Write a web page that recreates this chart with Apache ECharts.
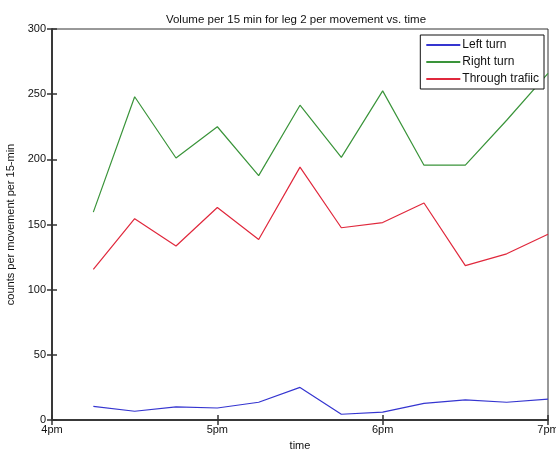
<!DOCTYPE html>
<html><head><meta charset="utf-8">
<script src="https://cdn.jsdelivr.net/npm/echarts@6/dist/echarts.min.js"></script>
<style>html,body{margin:0;padding:0;background:#fff}#c{width:556px;height:450px}</style>
</head><body><div id="c"></div>
<script>
// minutes after 4pm
var minutes = [15, 30, 45, 60, 75, 90, 105, 120, 135, 150, 165, 180];
var leftTurn = [10.5, 6.7, 10, 9.2, 13.6, 25, 4.4, 6, 12.8, 15.4, 13.6, 16];
var rightTurn = [159.5, 248, 201, 225, 187.5, 241.5, 201.5, 252.5, 195.5, 195.5, 230, 266];
var throughTraffic = [115.5, 154.5, 133.5, 163, 138.5, 194, 147.5, 151.5, 166.5, 118.5, 127.5, 142.5];
var xTickLabels = ['4pm', '5pm', '6pm', '7pm'];
var seriesNames = ['Left turn', 'Right turn', 'Through trafiic'];
var colors = ['#3535d0', '#3a943a', '#e0283c'];

function pairs(vals) { return minutes.map(function (m, i) { return [m, vals[i]]; }); }

var font = 'Liberation Sans';
var axisLine = { show: true, lineStyle: { color: '#333', width: 1.5 } };
var tick = { inside: true, length: 5, lineStyle: { color: '#333', width: 1.5 } };
var chart = echarts.init(document.getElementById('c'));
chart.setOption({
  animation: false,
  color: colors,
  title: {
    text: 'Volume per 15 min for leg 2 per movement vs. time',
    left: 291, top: 9, textAlign: 'center',
    textStyle: { fontFamily: font, fontSize: 11.5, fontWeight: 'normal', color: '#111' }
  },
  legend: {
    orient: 'vertical', right: 12, top: 35,
    backgroundColor: '#fff', borderColor: '#111', borderWidth: 1,
    padding: [4, 5, 4, 6], itemGap: 5, itemWidth: 34, itemHeight: 2,
    icon: 'rect',
    textStyle: { fontFamily: font, fontSize: 12, color: '#111', padding: [0, 0, 0, -3] },
    data: seriesNames
  },
  grid: { left: 52, right: 8, top: 29, bottom: 30, outerBoundsMode: 'none', containLabel: false,
    show: true, borderColor: '#333', borderWidth: 1 },
  xAxis: [{
    type: 'value', min: 0, max: 180, interval: 60,
    name: 'time', nameLocation: 'middle', nameGap: 20,
    nameTextStyle: { fontFamily: font, fontSize: 11, color: '#111' },
    axisLine: axisLine, axisTick: tick,
    axisLabel: { fontFamily: font, fontSize: 11, color: '#111', margin: 4,
      formatter: function (v) { return xTickLabels[Math.round(v / 60)]; } },
    splitLine: { show: false }
  }, {
    type: 'value', position: 'top', min: 0, max: 180, interval: 60,
    axisLine: axisLine, axisTick: tick,
    axisLabel: { show: false }, splitLine: { show: false }
  }],
  yAxis: [{
    type: 'value', min: 0, max: 300, interval: 50,
    name: 'counts per movement per 15-min', nameLocation: 'middle', nameGap: 33,
    nameTextStyle: { fontFamily: font, fontSize: 11, color: '#111' },
    axisLine: axisLine, axisTick: tick,
    axisLabel: { fontFamily: font, fontSize: 11, color: '#111', margin: 6 },
    splitLine: { show: false }
  }, {
    type: 'value', position: 'right', min: 0, max: 300, interval: 50,
    axisLine: axisLine, axisTick: tick,
    axisLabel: { show: false }, splitLine: { show: false }
  }],
  series: [
    { name: seriesNames[0], type: 'line', data: pairs(leftTurn), symbol: 'none', lineStyle: { width: 1.2 } },
    { name: seriesNames[1], type: 'line', data: pairs(rightTurn), symbol: 'none', lineStyle: { width: 1.2 } },
    { name: seriesNames[2], type: 'line', data: pairs(throughTraffic), symbol: 'none', lineStyle: { width: 1.2 } }
  ]
});
</script></body></html>
